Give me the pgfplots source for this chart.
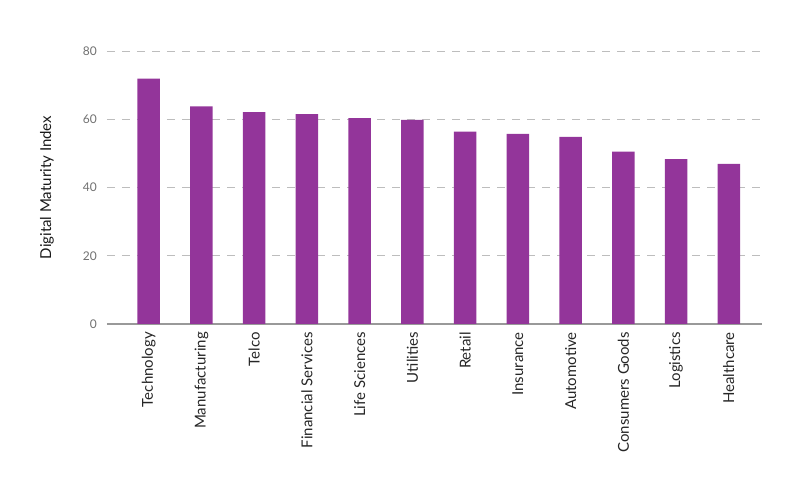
\documentclass[border=0pt]{standalone}
\usepackage{fontspec}
\setmainfont{Lato}
\usepackage{pgfplots}
\pgfplotsset{compat=1.18}
\definecolor{barc}{HTML}{93359A}
\definecolor{gridc}{HTML}{BDBDBD}
\definecolor{axisc}{HTML}{999999}
\definecolor{tickc}{HTML}{707070}
\begin{document}
\begin{tikzpicture}
\begin{axis}[
  scale only axis, width=655pt, height=273pt,
  xmin=-0.79, xmax=11.63, ymin=0, ymax=80,
  axis lines*=left,
  y axis line style={draw=none},
  x axis line style={draw=axisc, line width=1.5pt, -},
  major tick length=0pt,
  ytick={0,20,40,60,80},
  ymajorgrids,
  grid style={draw=gridc, line width=0.8pt, dash pattern=on 8pt off 7pt},
  xtick={0,...,11},
  xticklabels={Technology,Manufacturing,Telco,Financial Services,Life Sciences,Utilities,Retail,Insurance,Automotive,Consumers Goods,Logistics,Healthcare},
  x tick label style={rotate=90, anchor=east, inner sep=0pt, font=\fontsize{15}{17}\selectfont, text=black!85},
  xticklabel shift=8pt,
  y tick label style={anchor=east, inner sep=0pt, font=\fontsize{12}{14}\selectfont, text=tickc},
  yticklabel shift=10pt,
  /pgf/number format/assume math mode=true,
  ylabel={Digital Maturity Index},
  every axis y label/.style={at={(axis description cs:-0.0916,0.5)}, rotate=90, anchor=center, font=\fontsize{15}{17}\selectfont, text=black!90},
  ybar, bar width=22.5pt,
  clip=false,
]
\addplot[fill=barc, draw=none] coordinates {
 (0,71.9) (1,63.8) (2,62.1) (3,61.5) (4,60.3) (5,59.8)
 (6,56.4) (7,55.7) (8,54.8) (9,50.5) (10,48.3) (11,46.9)};
\end{axis}
\pgfresetboundingbox
\path ([xshift=-107pt,yshift=51pt]current axis.north west) rectangle ([xshift=38pt,yshift=-173pt]current axis.south east);
\end{tikzpicture}
\end{document}
